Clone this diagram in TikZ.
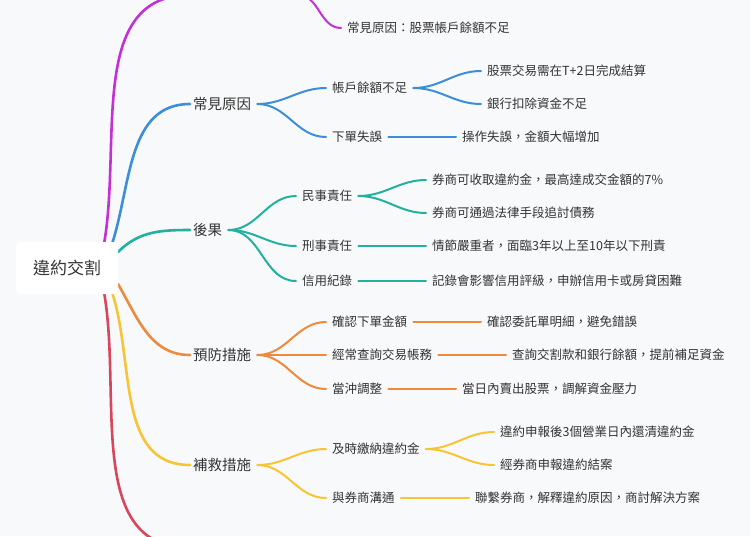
\documentclass[tikz,border=0pt]{standalone}
\usepackage{fontspec}
\setmainfont{Noto Sans CJK TC}
\definecolor{bg}{HTML}{F8F9FB}
\definecolor{cP}{HTML}{C42FD6}
\definecolor{cB}{HTML}{3C8EDB}
\definecolor{cT}{HTML}{22B19F}
\definecolor{cO}{HTML}{EE8A3E}
\definecolor{cY}{HTML}{F7C534}
\definecolor{cR}{HTML}{D8465C}
\definecolor{tx}{HTML}{333333}
\begin{document}
\begin{tikzpicture}[x=1pt,y=-1pt,
  t/.style={anchor=west,inner sep=0pt,font=\fontsize{12.5}{14}\selectfont,text=tx},
  t1/.style={t,font=\fontsize{14.5}{16}\selectfont},
  ln/.style={line width=2pt,line cap=round},
  rl/.style={line width=2.6pt,line cap=round}]
\fill[bg] (0,0) rectangle (750,536);
\useasboundingbox (0,0) rectangle (750,536);
% root links
\coordinate (pTop) at (190,-5);
\coordinate (rBot) at (190,548);
\draw[rl,cP] (104,244) to[out=80,in=180] (pTop);
\draw[rl,cB] (112,244) to[out=72,in=180] (190,104);
\draw[rl,cT] (118,252) to[out=45,in=180] (190,230);
\draw[rl,cO] (118,284) to[out=-60,in=180] (190,355);
\draw[rl,cY] (112,292) to[out=-72,in=180] (190,465);
\draw[rl,cR] (104,292) to[out=-80,in=180] (rBot);
% root
\node[fill=white,rounded corners=4pt,minimum width=102pt,minimum height=52pt,font=\fontsize{17}{20}\selectfont,text=tx] (root) at (67,268) {違約交割};
% purple
\node[t] (p1) at (347,28) {常見原因：股票帳戶餘額不足};
\draw[ln,cP] (298,-5) to[out=0,in=180] ([xshift=-6pt]p1.west);
% level1
\node[t1] (b) at (193,104) {常見原因};
\node[t1] (te) at (193,230) {後果};
\node[t1] (o) at (193,355) {預防措施};
\node[t1] (y) at (193,465) {補救措施};
% blue
\node[t] (b1) at (332,88) {帳戶餘額不足};
\node[t] (b2) at (332,137) {下單失誤};
\node[t] (b11) at (487,71) {股票交易需在T+2日完成結算};
\node[t] (b12) at (487,104) {銀行扣除資金不足};
\node[t] (b21) at (462,137) {操作失誤，金額大幅增加};
% teal
\node[t] (t1) at (302,196) {民事責任};
\node[t] (t2) at (302,246) {刑事責任};
\node[t] (t3) at (302,281) {信用紀錄};
\node[t] (t11) at (432,180) {券商可收取違約金，最高達成交金額的7\%};
\node[t] (t12) at (432,213) {券商可通過法律手段追討債務};
\node[t] (t21) at (432,246) {情節嚴重者，面臨3年以上至10年以下刑責};
\node[t] (t31) at (432,281) {記錄會影響信用評級，申辦信用卡或房貸困難};
% orange
\node[t] (o1) at (332,322) {確認下單金額};
\node[t] (o2) at (332,355) {經常查詢交易帳務};
\node[t] (o3) at (332,389) {當沖調整};
\node[t] (o11) at (487,322) {確認委託單明細，避免錯誤};
\node[t] (o21) at (512,355) {查詢交割款和銀行餘額，提前補足資金};
\node[t] (o31) at (462,389) {當日內賣出股票，調解資金壓力};
% yellow
\node[t] (y1) at (332,449) {及時繳納違約金};
\node[t] (y2) at (332,498) {與券商溝通};
\node[t] (y11) at (500,432) {違約申報後3個營業日內還清違約金};
\node[t] (y12) at (500,465) {經券商申報違約結案};
\node[t] (y21) at (475,498) {聯繫券商，解釋違約原因，商討解決方案};
% links
\foreach \c/\p/\k in {cB/b/b1,cB/b/b2,cB/b1/b11,cB/b1/b12,cB/b2/b21,
  cT/te/t1,cT/te/t2,cT/te/t3,cT/t1/t11,cT/t1/t12,cT/t2/t21,cT/t3/t31,
  cO/o/o1,cO/o/o2,cO/o/o3,cO/o1/o11,cO/o2/o21,cO/o3/o31,
  cY/y/y1,cY/y/y2,cY/y1/y11,cY/y1/y12,cY/y2/y21}
  \draw[ln,\c] ([xshift=6pt]\p.east) to[out=0,in=180] ([xshift=-6pt]\k.west);
\end{tikzpicture}
\end{document}
